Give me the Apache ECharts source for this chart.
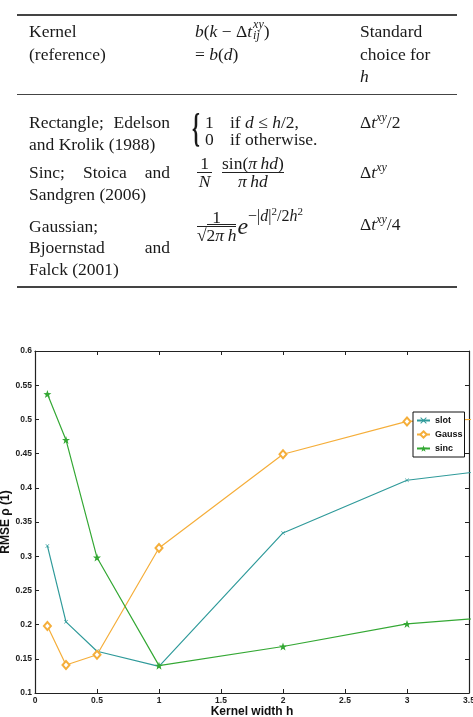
<!DOCTYPE html>
<html>
<head>
<meta charset="utf-8">
<script src="https://cdn.jsdelivr.net/npm/echarts@6/dist/echarts.min.js"></script>
<style>
html, body { margin: 0; padding: 0; background: #fff; }
#page { position: relative; width: 473px; height: 717px; overflow: hidden; }
#chart { position: absolute; left: 0; top: 0; width: 473px; height: 717px; z-index: 0; }
#tbl { position: absolute; left: 0; top: 0; width: 473px; height: 300px; z-index: 1;
       font-family: "Liberation Serif", "DejaVu Serif", serif; font-size: 17.5px; color: #1a1a1a; }
.c { position: absolute; white-space: nowrap; line-height: 22px; }
.j { width: 141px; text-align: justify; text-align-last: justify; }
.rule { position: absolute; left: 17px; width: 440px; height: 1.5px; background: #444; }
.sup { font-size: 12px; position: relative; top: -7px; }
.stk { display: inline-flex; flex-direction: column; vertical-align: middle; position: relative; top: -3px;
       font-size: 12px; line-height: 11px; margin-left: 1px; }
.f { display: flex; align-items: center; }
.fr { display: inline-flex; flex-direction: column; text-align: center; }
.fr > span { display: block; line-height: 17px; }
.fr > span:first-child { border-bottom: 1px solid #222; }
.sm { font-size: 11px; position: relative; top: -6px; }
</style>
</head>
<body>
<div id="page">
  <div id="chart"></div>
  <div id="tbl">
    <div class="rule" style="top:14px"></div>
    <div class="rule" style="top:93.5px"></div>
    <div class="rule" style="top:286px"></div>

    <!-- header -->
    <div class="c" style="left:29px;top:20.4px">Kernel</div>
    <div class="c" style="left:29px;top:43px">(reference)</div>
    <div class="c" style="left:195px;top:20.4px"><i>b</i>(<i>k</i> − Δ<i>t</i><span class="stk"><i>xy</i><i>ij</i></span>)</div>
    <div class="c" style="left:195px;top:43px">= <i>b</i>(<i>d</i>)</div>
    <div class="c" style="left:360px;top:20.4px">Standard</div>
    <div class="c" style="left:360px;top:43px">choice for</div>
    <div class="c" style="left:360px;top:64.7px"><i>h</i></div>

    <!-- rectangle -->
    <div class="c j" style="left:29px;top:111.3px">Rectangle; Edelson</div>
    <div class="c" style="left:29px;top:133.3px">and Krolik (1988)</div>
    <div class="c" style="left:192px;top:116px;font-size:20px;font-weight:bold;transform:scaleY(2);transform-origin:center">{</div>
    <div class="c" style="left:205px;top:111px">1</div>
    <div class="c" style="left:230px;top:111px">if <i>d</i> ≤ <i>h</i>/2,</div>
    <div class="c" style="left:205px;top:128px">0</div>
    <div class="c" style="left:230px;top:128px">if otherwise.</div>
    <div class="c" style="left:360px;top:111.3px">Δ<i>t</i><i class="sup">xy</i>/2</div>

    <!-- sinc -->
    <div class="c j" style="left:29px;top:161.3px">Sinc; Stoica and</div>
    <div class="c" style="left:29px;top:183px">Sandgren (2006)</div>
    <div class="c f" style="left:197px;top:152px;height:40px">
      <span class="fr" style="width:15px"><span>1</span><span><i>N</i></span></span>
      <span class="fr" style="margin-left:10px"><span>sin(<i>π</i>&thinsp;<i>hd</i>)</span><span><i>π</i>&thinsp;<i>hd</i></span></span>
    </div>
    <div class="c" style="left:360px;top:161.3px">Δ<i>t</i><i class="sup">xy</i></div>

    <!-- gaussian -->
    <div class="c" style="left:29px;top:214.7px">Gaussian;</div>
    <div class="c j" style="left:29px;top:236.3px">Bjoernstad and</div>
    <div class="c" style="left:29px;top:258px">Falck (2001)</div>
    <div class="c f" style="left:197px;top:206px;height:40px">
      <span class="fr"><span>1</span><span>√<span style="border-top:1px solid #222">2<i>π</i>&thinsp;<i>h</i></span></span></span>
      <i style="font-size:24px;margin-left:1px;line-height:24px">e</i>
      <span style="font-size:16px;align-self:flex-start;line-height:18px;position:relative;top:1px">−|<i>d</i>|<span class="sm">2</span>/2<i>h</i><span class="sm">2</span></span>
    </div>
    <div class="c" style="left:360px;top:213px">Δ<i>t</i><i class="sup">xy</i>/4</div>
  </div>
</div>
<script>
// kernel widths h (last point lies beyond the visible axis range)
var kernelWidth = [0.1, 0.25, 0.5, 1, 2, 3, 4];
var slotRmse  = [0.315, 0.204, 0.161, 0.139, 0.334, 0.411, 0.433];
var gaussRmse = [0.198, 0.141, 0.156, 0.312, 0.449, 0.497, 0.503];
var sincRmse  = [0.537, 0.470, 0.298, 0.140, 0.168, 0.201, 0.215];
var seriesNames = ['slot', 'Gauss', 'sinc'];
var xScale = { min: 0, max: 3.5, interval: 0.5 };
var yScale = { min: 0.1, max: 0.6, interval: 0.05 };

function pairs(ys) {
    return kernelWidth.map(function (x, i) { return [x, ys[i]]; });
}

var axisLine = { show: true, onZero: false, lineStyle: { color: '#222', width: 1.2 } };
var axisTick = { show: true, inside: true, length: 4, lineStyle: { color: '#222', width: 1 } };
var labelStyle = { fontFamily: 'Liberation Sans', fontWeight: 'bold', fontSize: 8.5, color: '#222' };
var nameStyle = { fontFamily: 'Liberation Sans', fontWeight: 'bold', fontSize: 12, color: '#111' };

var starPath = 'path://M12,0 L14.9,8.1 L23.4,8.2 L16.6,13.3 L19.1,21.5 L12,16.6 L4.9,21.5 L7.4,13.3 L0.6,8.2 L9.1,8.1 Z';
var crossPath = 'path://M1,0 L5,4 L9,0 L10,1 L6,5 L10,9 L9,10 L5,6 L1,10 L0,9 L4,5 L0,1 Z';

var chart = echarts.init(document.getElementById('chart'));
var option = {
    animation: false,
    grid: { left: 35, right: 4, top: 351, bottom: 24, containLabel: false, outerBoundsMode: 'none' },
    legend: {
        data: seriesNames,
        orient: 'vertical',
        left: 413, top: 412,
        backgroundColor: '#fff',
        borderColor: '#111', borderWidth: 1, borderRadius: 0,
        padding: [4, 2, 4, 3],
        itemWidth: 13, itemHeight: 8, itemGap: 5,
        textStyle: { fontFamily: 'Liberation Sans', fontWeight: 'bold', fontSize: 9, color: '#111' }
    },
    xAxis: [{
        type: 'value', position: 'bottom',
        min: xScale.min, max: xScale.max, interval: xScale.interval,
        name: 'Kernel width h', nameLocation: 'middle', nameGap: 13, nameTextStyle: nameStyle,
        nameMoveOverlap: false,
        axisLine: axisLine, axisTick: axisTick,
        axisLabel: Object.assign({ margin: 3 }, labelStyle),
        splitLine: { show: false }
    }, {
        type: 'value', position: 'top',
        min: xScale.min, max: xScale.max, interval: xScale.interval,
        axisLine: axisLine, axisTick: axisTick,
        axisLabel: { show: false }, splitLine: { show: false }
    }],
    yAxis: [{
        type: 'value', position: 'left',
        min: yScale.min, max: yScale.max, interval: yScale.interval,
        name: 'RMSE ρ (1)', nameLocation: 'middle', nameGap: 23, nameTextStyle: nameStyle,
        nameMoveOverlap: false,
        axisLine: axisLine, axisTick: axisTick,
        axisLabel: Object.assign({
            margin: 3,
            formatter: function (v) { return String(+v.toFixed(2)); }
        }, labelStyle),
        splitLine: { show: false }
    }, {
        type: 'value', position: 'right',
        min: yScale.min, max: yScale.max, interval: yScale.interval,
        axisLine: axisLine, axisTick: axisTick,
        axisLabel: { show: false }, splitLine: { show: false }
    }],
    series: [{
        name: 'slot', type: 'line', data: pairs(slotRmse),
        symbol: crossPath, symbolSize: 4,
        itemStyle: { color: '#2f9a9a' },
        lineStyle: { color: '#2f9a9a', width: 1.2 }
    }, {
        name: 'Gauss', type: 'line', data: pairs(gaussRmse),
        symbol: 'emptyDiamond', symbolSize: [7, 8],
        itemStyle: { color: '#f5ae3a', borderWidth: 1.2 },
        lineStyle: { color: '#f5ae3a', width: 1.2 }
    }, {
        name: 'sinc', type: 'line', data: pairs(sincRmse),
        symbol: starPath, symbolSize: 8,
        itemStyle: { color: '#34a834' },
        lineStyle: { color: '#34a834', width: 1.2 }
    }]
};
chart.setOption(option);
</script>
</body>
</html>
